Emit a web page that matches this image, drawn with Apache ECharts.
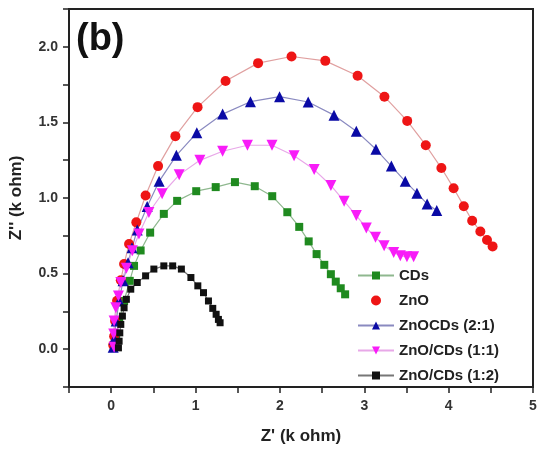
<!DOCTYPE html>
<html>
<head>
<meta charset="utf-8">
<script src="https://cdn.jsdelivr.net/npm/echarts@6/dist/echarts.min.js"></script>
<style>
html,body{margin:0;padding:0;background:#fff;}
#chart{width:548px;height:453px;}
</style>
</head>
<body>
<div id="chart"></div>
<script>
const seriesNames = ['CDs', 'ZnO', 'ZnOCDs (2:1)', 'ZnO/CDs (1:1)', 'ZnO/CDs (1:2)'];
const xTickLabels = ['0', '1', '2', '3', '4', '5'];
const yTickLabels = ['0.0', '0.5', '1.0', '1.5', '2.0'];

const cdsData = [[0.059,0.086],[0.094,0.186],[0.153,0.319],[0.22,0.452],[0.271,0.551],[0.349,0.653],[0.462,0.771],[0.624,0.895],[0.782,0.981],[1.008,1.045],[1.239,1.072],[1.467,1.105],[1.702,1.078],[1.909,1.012],[2.088,0.906],[2.229,0.809],[2.341,0.713],[2.435,0.629],[2.526,0.558],[2.604,0.496],[2.662,0.447],[2.721,0.403],[2.773,0.363]];

const znoData = [[0.024,0.027],[0.035,0.086],[0.047,0.186],[0.07,0.32],[0.114,0.456],[0.153,0.563],[0.212,0.696],[0.298,0.839],[0.408,1.017],[0.556,1.211],[0.761,1.409],[1.024,1.601],[1.356,1.774],[1.741,1.892],[2.138,1.936],[2.538,1.907],[2.921,1.809],[3.239,1.670],[3.509,1.510],[3.729,1.349],[3.914,1.198],[4.059,1.065],[4.180,0.946],[4.279,0.850],[4.376,0.779],[4.455,0.722],[4.521,0.680]];

const zno21Data = [[0.024,0.013],[0.035,0.066],[0.059,0.186],[0.094,0.319],[0.141,0.452],[0.2,0.571],[0.247,0.671],[0.309,0.789],[0.427,0.944],[0.568,1.110],[0.773,1.282],[1.015,1.431],[1.321,1.555],[1.651,1.637],[1.996,1.670],[2.335,1.635],[2.641,1.548],[2.906,1.442],[3.138,1.322],[3.321,1.211],[3.486,1.110],[3.624,1.032],[3.745,0.961],[3.859,0.917]];

const zno11Data = [[0.035,0.013],[0.03,0.10],[0.035,0.186],[0.055,0.274],[0.086,0.352],[0.114,0.441],[0.18,0.536],[0.251,0.651],[0.329,0.762],[0.447,0.904],[0.604,1.028],[0.806,1.153],[1.051,1.249],[1.321,1.309],[1.615,1.349],[1.906,1.349],[2.168,1.279],[2.406,1.188],[2.604,1.083],[2.761,0.979],[2.906,0.884],[3.024,0.802],[3.133,0.740],[3.235,0.684],[3.349,0.640],[3.427,0.618],[3.506,0.611],[3.585,0.611]];

const zno12Data = [[0.086,0.009],[0.094,0.053],[0.102,0.108],[0.114,0.164],[0.133,0.219],[0.153,0.274],[0.18,0.330],[0.232,0.397],[0.309,0.441],[0.408,0.485],[0.506,0.530],[0.624,0.551],[0.729,0.551],[0.832,0.530],[0.945,0.474],[1.027,0.419],[1.094,0.374],[1.153,0.319],[1.204,0.270],[1.244,0.231],[1.271,0.197],[1.291,0.175]];

const chart = echarts.init(document.getElementById('chart'));
const FONT = 'Liberation Sans, Arial, sans-serif';

function mk(name, data, symbol, size, color, lineColor, rotate) {
  return {
    name: name, type: 'line', data: data,
    symbol: symbol, symbolSize: size, symbolRotate: rotate || 0,
    itemStyle: { color: color },
    lineStyle: { color: lineColor, width: 1.2 },
    showSymbol: true, animation: false, z: 3
  };
}

chart.setOption({
  backgroundColor: '#fff',
  animation: false,
  grid: { left: 64, right: 15, top: 9, bottom: 66, show: true, borderColor: '#222', borderWidth: 2, backgroundColor: 'transparent' },
  xAxis: {
    type: 'value', min: -0.5, max: 5, interval: 0.5,
    name: "Z' (k ohm)", nameLocation: 'middle', nameGap: 41,
    nameTextStyle: { fontFamily: FONT, fontWeight: 'bold', fontSize: 17, color: '#222' },
    axisLine: { show: true, onZero: false, lineStyle: { color: '#222', width: 2 } },
    axisTick: { show: true, inside: false, length: 6, lineStyle: { color: '#222', width: 1.5 } },
    axisLabel: {
      margin: 12, fontFamily: FONT, fontWeight: 'bold', fontSize: 14, color: '#333',
      showMinLabel: true, showMaxLabel: true,
      formatter: function (v) {
        const r = Math.round(v);
        if (Math.abs(v - r) < 1e-6 && r >= 0 && r <= 5) return xTickLabels[r];
        return '';
      }
    },
    splitLine: { show: false }
  },
  yAxis: {
    type: 'value', min: -0.25, max: 2.25, interval: 0.25,
    name: "Z'' (k ohm)", nameLocation: 'middle', nameGap: 44,
    nameTextStyle: { fontFamily: FONT, fontWeight: 'bold', fontSize: 17, color: '#222' },
    axisLine: { show: true, onZero: false, lineStyle: { color: '#222', width: 2 } },
    axisTick: { show: true, inside: false, length: 6, lineStyle: { color: '#222', width: 1.5 } },
    axisLabel: {
      margin: 11, fontFamily: FONT, fontWeight: 'bold', fontSize: 14, color: '#333',
      formatter: function (v) {
        const k = Math.round(v * 2);
        if (Math.abs(v * 2 - k) < 1e-6 && k >= 0 && k <= 4) return yTickLabels[k];
        return '';
      }
    },
    splitLine: { show: false }
  },
  legend: {
    orient: 'vertical', left: 352, top: 263, itemGap: 10,
    itemWidth: 36, itemHeight: 10,
    textStyle: { fontFamily: FONT, fontWeight: 'bold', fontSize: 15, color: '#222' },
    data: [
      { name: seriesNames[0] },
      { name: seriesNames[1], icon: 'circle' },
      { name: seriesNames[2] },
      { name: seriesNames[3] },
      { name: seriesNames[4] }
    ]
  },
  graphic: [{
    type: 'text', left: 76, top: 21,
    style: { text: '(b)', fontFamily: FONT, fontWeight: 'bold', fontSize: 38, fill: '#111' }
  }],
  series: [
    mk(seriesNames[0], cdsData, 'rect', 8, '#1f8a1f', '#8fb88f'),
    mk(seriesNames[1], znoData, 'circle', 10, '#ee1515', '#e0a0a0'),
    mk(seriesNames[2], zno21Data, 'triangle', 11, '#0a0aa5', '#8a8ac0'),
    mk(seriesNames[3], zno11Data, 'triangle', 11, '#f81cf8', '#e8a8e8', 180),
    mk(seriesNames[4], zno12Data, 'rect', 7, '#111111', '#777777')
  ]
});
</script>
</body>
</html>
